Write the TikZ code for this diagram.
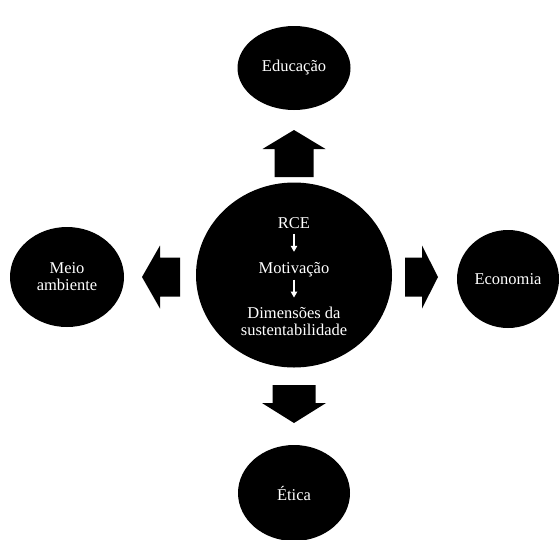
\documentclass[tikz,border=0pt]{standalone}
\usepackage{fontspec}
\setmainfont{Liberation Serif}
\usetikzlibrary{arrows.meta,shapes.geometric}

\tikzset{
	blob/.style={ellipse, fill=black, inner sep=0pt, text=white, align=center,
		font=\fontsize{16.5}{17}\selectfont},
	intext/.style={text=white, align=center, inner sep=0pt,
		font=\fontsize{16.5}{17}\selectfont},
	smallarrow/.style={white, line width=1.1pt, -{Triangle[width=6.5pt,length=6pt]}},
	bigarrow/.style={fill=black},
}

\begin{document}
\begin{tikzpicture}[x=1pt, y=-1pt]
		\useasboundingbox (0,0) rectangle (559,539);

		%% Kreise
		\node[blob, minimum width=196, minimum height=185] (rcebox) at (294,275) {};
		\node[blob, minimum width=113, minimum height=84] (edu) at (294,68) {Educação};
		\node[blob, minimum width=114, minimum height=100] (meio) at (67,277) {Meio\\ambiente};
		\node[blob, minimum width=102, minimum height=98] (eco) at (508,279) {Economia};
		\node[blob, minimum width=112, minimum height=96] (etica) at (294,493) {Ética};

		%% Text im Mittelkreis
		\node[intext] (rce) at (294,223) {RCE};
		\node[intext] (mot) at (294,270) {Motivação};
		\node[intext] (dim) at (294,321) {Dimensões da\\sustentabilidade};
		\draw[smallarrow] (rce.south) ++(0,5) -- ++(0,18);
		\draw[smallarrow] (mot.south) ++(0,2) -- ++(0,18);

		%% Blockpfeile
		\coordinate (up) at (294,177);
		\coordinate (left) at (180,277);
		\coordinate (right) at (405,277);
		\coordinate (down) at (294,385);
		\fill[bigarrow, shift={(up)}, rotate=90] (0,-19.5) -- (28,-19.5) -- (28,-31.5) -- (47,0) -- (28,31.5) -- (28,19.5) -- (0,19.5) -- cycle;
		\fill[bigarrow, shift={(left)}, rotate=180] (0,-19.5) -- (20,-19.5) -- (20,-31.5) -- (38,0) -- (20,31.5) -- (20,19.5) -- (0,19.5) -- cycle;
		\fill[bigarrow, shift={(right)}] (0,-19.5) -- (17,-19.5) -- (17,-31.5) -- (33,0) -- (17,31.5) -- (17,19.5) -- (0,19.5) -- cycle;
		\fill[bigarrow, shift={(down)}, rotate=-90] (0,-21.5) -- (18,-21.5) -- (18,-32) -- (38,0) -- (18,32) -- (18,21.5) -- (0,21.5) -- cycle;
\end{tikzpicture}
\end{document}
